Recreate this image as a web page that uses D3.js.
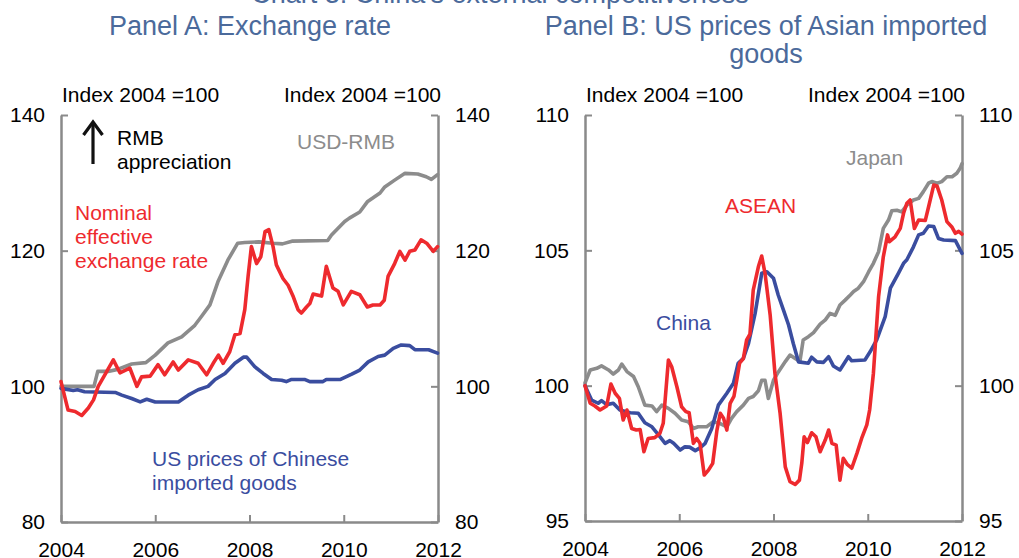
<!DOCTYPE html>
<html>
<head>
<meta charset="utf-8">
<script src="https://cdn.jsdelivr.net/npm/d3@7"></script>
<style>
  body { margin: 0; background: #fff; }
  svg { display: block; font-family: "Liberation Sans", Arial, sans-serif; }
</style>
</head>
<body>
<svg id="chart" width="1019" height="558"></svg>
<script>
// values, [year, index]
const usdRmb = [[2004.0,100.0],[2004.7,100.0],[2004.78,102.2],[2005.0,102.2],[2005.2,102.5],[2005.5,103.3],[2005.8,103.5],[2006.0,104.6],[2006.27,106.4],[2006.56,107.3],[2006.84,109.0],[2006.98,110.3],[2007.16,112.0],[2007.33,115.4],[2007.54,118.6],[2007.75,121.1],[2007.9,121.2],[2008.2,121.3],[2008.5,121.1],[2008.7,121.0],[2008.9,121.4],[2009.66,121.5],[2009.74,122.3],[2010.02,124.3],[2010.12,124.8],[2010.34,125.7],[2010.5,127.2],[2010.77,128.5],[2010.87,129.4],[2011.08,130.4],[2011.3,131.4],[2011.57,131.3],[2011.75,130.9],[2011.86,130.5],[2011.99,131.2]];

const neer = [[2004.0,100.7],[2004.15,96.5],[2004.3,96.3],[2004.44,95.7],[2004.58,96.8],[2004.69,98.0],[2004.79,100.0],[2004.93,101.7],[2005.11,103.9],[2005.25,102.0],[2005.46,102.7],[2005.61,100.0],[2005.71,101.4],[2005.89,101.5],[2006.06,103.2],[2006.2,101.7],[2006.38,103.6],[2006.49,102.4],[2006.7,103.9],[2006.91,103.4],[2007.09,101.7],[2007.23,103.4],[2007.34,104.6],[2007.44,103.4],[2007.58,105.1],[2007.69,107.6],[2007.8,107.8],[2007.9,111.3],[2007.97,116.2],[2008.04,120.6],[2008.15,118.1],[2008.24,119.1],[2008.33,122.8],[2008.41,123.1],[2008.5,120.6],[2008.57,117.9],[2008.71,115.9],[2008.82,114.9],[2008.93,113.2],[2009.03,111.3],[2009.1,110.8],[2009.21,111.7],[2009.28,112.2],[2009.35,113.6],[2009.53,113.3],[2009.63,117.7],[2009.77,114.5],[2009.88,114.0],[2009.99,112.0],[2010.16,114.0],[2010.34,113.5],[2010.5,111.7],[2010.62,112.0],[2010.77,112.0],[2010.86,112.7],[2010.94,116.2],[2011.08,118.1],[2011.19,119.9],[2011.3,118.6],[2011.4,119.9],[2011.51,120.1],[2011.64,121.6],[2011.76,121.1],[2011.9,119.9],[2011.99,120.6]];

const chinaPricesA = [[2004.0,99.7],[2004.26,99.4],[2004.35,99.5],[2004.5,99.2],[2005.15,99.1],[2005.29,98.7],[2005.5,98.2],[2005.68,97.7],[2005.82,98.1],[2006.0,97.7],[2006.49,97.7],[2006.7,98.7],[2006.91,99.5],[2007.12,100.0],[2007.27,101.0],[2007.48,101.9],[2007.69,103.4],[2007.87,104.3],[2007.94,104.3],[2008.11,102.9],[2008.29,101.9],[2008.47,101.0],[2008.68,100.9],[2008.78,100.7],[2008.88,101.0],[2009.18,101.0],[2009.28,100.7],[2009.56,100.7],[2009.63,101.0],[2009.92,101.0],[2010.17,101.8],[2010.34,102.4],[2010.52,103.6],[2010.73,104.4],[2010.87,104.6],[2011.05,105.6],[2011.22,106.1],[2011.4,106.0],[2011.51,105.4],[2011.8,105.4],[2011.99,104.9]];

const chinaB = [[2004.0,100.0],[2004.14,99.47],[2004.28,99.35],[2004.35,99.45],[2004.46,99.3],[2004.6,99.35],[2004.74,99.1],[2004.96,99.0],[2005.13,98.98],[2005.27,98.63],[2005.42,98.48],[2005.56,98.18],[2005.7,97.87],[2005.8,97.97],[2005.88,97.87],[2006.02,97.62],[2006.12,97.74],[2006.22,97.73],[2006.34,97.6],[2006.44,97.7],[2006.55,97.87],[2006.69,98.42],[2006.83,99.28],[2007.01,99.72],[2007.15,100.09],[2007.25,100.83],[2007.36,101.01],[2007.47,101.56],[2007.61,102.67],[2007.75,104.15],[2007.86,104.21],[2008.0,103.97],[2008.1,103.35],[2008.21,102.8],[2008.32,102.24],[2008.42,101.56],[2008.53,100.88],[2008.74,100.83],[2008.81,101.05],[2008.92,100.88],[2009.06,100.86],[2009.17,101.07],[2009.27,100.73],[2009.41,100.58],[2009.59,101.07],[2009.66,100.92],[2009.94,100.95],[2010.05,101.25],[2010.19,101.69],[2010.37,102.55],[2010.48,103.6],[2010.65,104.15],[2010.76,104.52],[2010.83,104.65],[2010.97,105.13],[2011.08,105.57],[2011.18,105.63],[2011.29,105.9],[2011.4,105.88],[2011.5,105.44],[2011.61,105.38],[2011.86,105.36],[2012.0,104.89]];

const asean = [[2004.0,100.0],[2004.11,99.35],[2004.21,99.25],[2004.32,99.1],[2004.46,99.25],[2004.55,100.06],[2004.64,99.72],[2004.73,99.53],[2004.81,98.73],[2004.89,99.1],[2004.99,98.42],[2005.09,98.36],[2005.17,98.38],[2005.25,97.56],[2005.34,98.05],[2005.48,98.08],[2005.59,98.24],[2005.66,98.61],[2005.77,100.95],[2005.84,100.7],[2005.95,99.96],[2006.05,99.22],[2006.14,99.04],[2006.21,99.0],[2006.3,97.87],[2006.37,98.05],[2006.44,97.87],[2006.53,96.7],[2006.62,96.88],[2006.71,97.13],[2006.8,98.36],[2006.87,98.98],[2006.94,98.8],[2007.01,98.36],[2007.08,99.35],[2007.16,99.6],[2007.22,100.2],[2007.28,100.83],[2007.36,101.0],[2007.43,101.69],[2007.5,101.9],[2007.57,103.53],[2007.68,104.4],[2007.75,104.79],[2007.82,104.15],[2007.93,102.6],[2008.03,100.46],[2008.14,98.98],[2008.25,97.0],[2008.35,96.45],[2008.46,96.35],[2008.55,96.51],[2008.6,97.13],[2008.65,98.11],[2008.72,97.9],[2008.81,98.26],[2008.9,98.11],[2008.99,97.56],[2009.1,98.0],[2009.17,98.36],[2009.24,97.87],[2009.33,97.8],[2009.41,96.51],[2009.48,97.32],[2009.57,97.08],[2009.66,96.95],[2009.77,97.5],[2009.87,98.05],[2009.98,98.55],[2010.04,99.1],[2010.12,100.46],[2010.23,103.29],[2010.33,104.76],[2010.42,105.57],[2010.46,105.32],[2010.58,105.5],[2010.69,105.81],[2010.76,106.37],[2010.83,106.74],[2010.9,106.86],[2010.99,105.81],[2011.08,106.12],[2011.22,106.1],[2011.29,106.6],[2011.4,107.41],[2011.47,107.38],[2011.57,106.86],[2011.68,106.06],[2011.79,105.85],[2011.86,105.63],[2011.93,105.7],[2012.0,105.6]];

const japan = [[2004.0,100.1],[2004.11,100.58],[2004.25,100.64],[2004.35,100.73],[2004.5,100.58],[2004.6,100.43],[2004.71,100.58],[2004.78,100.8],[2004.89,100.52],[2005.03,100.34],[2005.13,99.96],[2005.27,99.28],[2005.42,99.25],[2005.52,99.04],[2005.63,99.28],[2005.77,99.16],[2005.91,98.98],[2006.05,98.73],[2006.19,98.67],[2006.3,98.42],[2006.4,98.48],[2006.58,98.48],[2006.72,98.67],[2006.87,98.6],[2007.01,98.48],[2007.11,98.79],[2007.22,99.04],[2007.36,99.28],[2007.47,99.53],[2007.57,99.6],[2007.68,99.81],[2007.75,100.2],[2007.82,100.2],[2007.89,99.53],[2008.0,100.2],[2008.1,100.5],[2008.25,100.89],[2008.35,101.13],[2008.46,101.0],[2008.56,100.89],[2008.63,101.69],[2008.74,101.81],[2008.85,101.96],[2008.99,102.27],[2009.1,102.43],[2009.2,102.67],[2009.31,102.6],[2009.41,102.98],[2009.52,103.16],[2009.63,103.35],[2009.7,103.48],[2009.8,103.6],[2009.91,103.84],[2010.02,104.21],[2010.12,104.52],[2010.23,104.95],[2010.33,105.81],[2010.44,106.12],[2010.51,106.46],[2010.62,106.48],[2010.72,106.42],[2010.83,106.67],[2010.97,106.86],[2011.08,106.92],[2011.18,107.17],[2011.29,107.48],[2011.36,107.54],[2011.47,107.48],[2011.57,107.54],[2011.68,107.72],[2011.79,107.72],[2011.89,107.85],[2011.96,108.03],[2012.0,108.2]];

const yearTicks = [2004, 2006, 2008, 2010, 2012];
const ticksA = [80, 100, 120, 140];
const ticksB = [95, 100, 105, 110];

const RED = "#ee2a2e", BLUE = "#3a4d9f", GREY = "#8c8c8c", AXIS = "#8a8a8a", TITLE = "#4b6a9b";

const svg = d3.select("#chart");

// main title, only its lower edge is inside the picture
svg.append("text").attr("x", 500).attr("y", 3).attr("text-anchor", "middle")
    .attr("font-size", "27px").attr("fill", TITLE)
    .text("Chart 3: China's external competitiveness");

function drawPanel(opt) {
    const x = d3.scaleLinear().domain([2004, 2012]).range(opt.xr);
    const y = d3.scaleLinear().domain(opt.yd).range(opt.yr);
    const g = svg.append("g");

    const styleAxis = sel => {
        sel.select(".domain").attr("stroke", AXIS).attr("stroke-width", 2.5);
        sel.selectAll(".tick line").attr("stroke", AXIS).attr("stroke-width", 2);
        sel.selectAll("text").attr("fill", "#000").attr("font-size", "21px")
            .attr("font-family", "Liberation Sans, Arial, sans-serif");
    };

    g.append("g").attr("transform", `translate(${opt.xr[0]},0)`)
        .call(d3.axisLeft(y).tickValues(opt.ticks).tickSize(-7).tickSizeOuter(0).tickPadding(16))
        .call(styleAxis);
    g.append("g").attr("transform", `translate(${opt.xr[1]},0)`)
        .call(d3.axisRight(y).tickValues(opt.ticks).tickSize(-7).tickSizeOuter(0).tickPadding(17))
        .call(styleAxis);
    g.append("g").attr("transform", `translate(0,${opt.yr[0]})`)
        .call(d3.axisBottom(x).tickValues(yearTicks).tickFormat(d3.format("d"))
            .tickSize(-7).tickSizeOuter(0).tickPadding(20))
        .call(styleAxis);

    const line = d3.line().x(d => x(d[0])).y(d => y(d[1]));
    opt.series.forEach(s => {
        g.append("path").datum(s.data)
            .attr("d", line)
            .attr("fill", "none")
            .attr("stroke", s.color)
            .attr("stroke-width", 3.6)
            .attr("stroke-linejoin", "round")
            .attr("stroke-linecap", "round");
    });

    // index labels above both axes
    g.append("text").attr("x", opt.xr[0] + 1).attr("y", 102).attr("font-size", "21px")
        .text("Index 2004 =100");
    g.append("text").attr("x", opt.xr[1] + 3).attr("y", 102).attr("font-size", "21px")
        .attr("text-anchor", "end").text("Index 2004 =100");

    opt.title.forEach((t, i) => {
        g.append("text").attr("x", opt.titleX).attr("y", 35 + i * 28)
            .attr("text-anchor", "middle").attr("font-size", "27px")
            .attr("fill", TITLE).text(t);
    });

    opt.notes.forEach(n => {
        n.lines.forEach((t, i) => {
            g.append("text").attr("x", n.x).attr("y", n.y + i * 24)
                .attr("font-size", "21px").attr("fill", n.color).text(t);
        });
    });
    return g;
}

const gA = drawPanel({
    xr: [61, 438], yd: [80, 140], yr: [522, 115], ticks: ticksA,
    series: [
        { data: usdRmb, color: GREY },
        { data: chinaPricesA, color: BLUE },
        { data: neer, color: RED }
    ],
    title: ["Panel A: Exchange rate"], titleX: 250,
    notes: [
        { x: 117, y: 145, color: "#000", lines: ["RMB", "appreciation"] },
        { x: 297, y: 149, color: GREY, lines: ["USD-RMB"] },
        { x: 75, y: 220, color: RED, lines: ["Nominal", "effective", "exchange rate"] },
        { x: 152, y: 466, color: BLUE, lines: ["US prices of Chinese", "imported goods"] }
    ]
});

// RMB appreciation arrow
gA.append("line").attr("x1", 93).attr("x2", 93).attr("y1", 164).attr("y2", 123)
    .attr("stroke", "#111").attr("stroke-width", 3.2);
gA.append("path").attr("d", "M83.5,135 L93,122 L102.5,135")
    .attr("fill", "none").attr("stroke", "#111").attr("stroke-width", 3.2);

drawPanel({
    xr: [585, 962], yd: [95, 110], yr: [521, 115], ticks: ticksB,
    series: [
        { data: japan, color: GREY },
        { data: chinaB, color: BLUE },
        { data: asean, color: RED }
    ],
    title: ["Panel B: US prices of Asian imported", "goods"], titleX: 766,
    notes: [
        { x: 846, y: 165, color: GREY, lines: ["Japan"] },
        { x: 725, y: 213, color: RED, lines: ["ASEAN"] },
        { x: 656, y: 330, color: BLUE, lines: ["China"] }
    ]
});
</script>
</body>
</html>
